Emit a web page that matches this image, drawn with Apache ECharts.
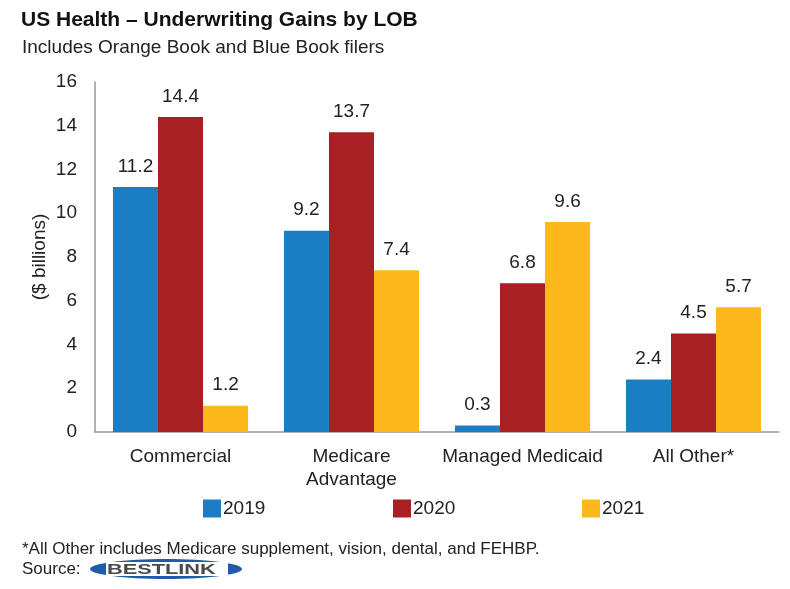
<!DOCTYPE html>
<html><head><meta charset="utf-8">
<script src="https://cdn.jsdelivr.net/npm/echarts@6/dist/echarts.min.js"></script>
<style>html,body{margin:0;padding:0;background:#fff}#c{width:790px;height:589px}</style>
</head><body><div id="c"></div>
<script>
const categories = ['Commercial', 'Medicare\nAdvantage', 'Managed Medicaid', 'All Other*'];
const years = ['2019', '2020', '2021'];
const v2019 = [11.2, 9.2, 0.3, 2.4];
const v2020 = [14.4, 13.7, 6.8, 4.5];
const v2021 = [1.2, 7.4, 9.6, 5.7];
const yTicks = {min: 0, max: 16, interval: 2};
const colors = ['#1B7EC5', '#A81F24', '#FDB81C'];
const font = 'Liberation Sans, Arial, sans-serif';
const chart = echarts.init(document.getElementById('c'));
const mk = (name, data, i) => ({
  name, type: 'bar', data, barGap: '0%', barCategoryGap: '21%',
  itemStyle: {color: colors[i]},
  label: {show: true, position: 'top', distance: 11, color: '#222', fontSize: 19, fontFamily: font, formatter: p => p.value.toFixed(1)}
});
const legendLefts = [203, 393, 582];
chart.setOption({
  animation: false,
  title: [
    {text: 'US Health – Underwriting Gains by LOB', left: 16, top: 5, textStyle: {fontSize: 21, fontWeight: 'bold', color: '#111', fontFamily: font}},
    {text: 'Includes Orange Book and Blue Book filers', left: 17, top: 33, textStyle: {fontSize: 19, fontWeight: 'normal', color: '#222', fontFamily: font}}
  ],
  grid: {left: 95, right: 11, top: 82, bottom: 157},
  legend: years.map((y, i) => ({
    data: [y], left: legendLefts[i], top: 499, padding: 0, itemWidth: 18, itemHeight: 18,
    icon: 'rect', textStyle: {fontSize: 19, color: '#222', fontFamily: font, padding: [0, 0, 0, -3]}
  })),
  xAxis: {
    type: 'category', data: categories,
    axisLine: {lineStyle: {color: '#999', width: 1.5}}, axisTick: {show: false},
    axisLabel: {interval: 0, fontSize: 19, color: '#222', fontFamily: font, margin: 13, lineHeight: 23}
  },
  yAxis: {
    type: 'value', min: yTicks.min, max: yTicks.max, interval: yTicks.interval,
    name: '($ billions)', nameLocation: 'middle', nameGap: 46, nameRotate: 90, nameMoveOverlap: false,
    nameTextStyle: {fontSize: 19, color: '#222', fontFamily: font},
    axisLine: {show: true, lineStyle: {color: '#999', width: 1.5}}, axisTick: {show: false},
    splitLine: {show: false},
    axisLabel: {fontSize: 19, color: '#222', fontFamily: font, margin: 18}
  },
  series: [mk(years[0], v2019, 0), mk(years[1], v2020, 1), mk(years[2], v2021, 2)],
  graphic: [
    {type: 'text', left: 22, top: 541, style: {text: '*All Other includes Medicare supplement, vision, dental, and FEHBP.', fontSize: 17, fill: '#222', fontFamily: font}},
    {type: 'text', left: 22, top: 561, style: {text: 'Source:', fontSize: 17, fill: '#222', fontFamily: font}},
    {type: 'ellipse', shape: {cx: 166, cy: 569, rx: 76, ry: 10}, style: {fill: '#1E5BA8'}},
    {type: 'rect', shape: {x: 106, y: 562, width: 122, height: 14}, style: {fill: '#fff'}},
    {type: 'text', x: 107, y: 562, scaleX: 1.45, style: {text: 'BESTLINK', fontSize: 15, fontWeight: 'bold', fill: '#4a4a4a', fontFamily: font}}
  ]
});
</script></body></html>
